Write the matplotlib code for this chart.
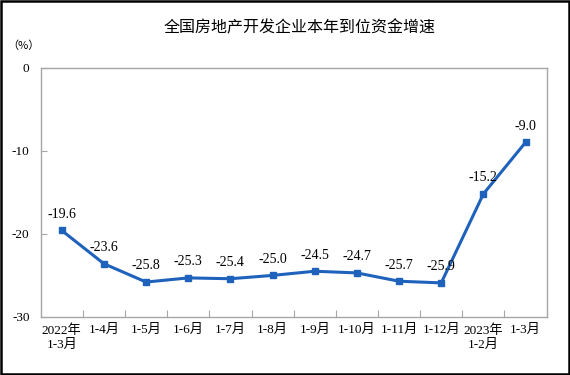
import matplotlib.pyplot as plt
from matplotlib.patches import Rectangle

# data
months = ["2022年\n1-3月", "1-4月", "1-5月", "1-6月", "1-7月", "1-8月",
          "1-9月", "1-10月", "1-11月", "1-12月", "2023年\n1-2月", "1-3月"]
growth = [-19.6, -23.6, -25.8, -25.3, -25.4, -25.0,
          -24.5, -24.7, -25.7, -25.9, -15.2, -9.0]
yticks = [0, -10, -20, -30]

serif = ['Liberation Serif', 'Noto Sans CJK SC']
line_color = '#1F62BC'
spine_color = '#A6A6A6'

fig = plt.figure(figsize=(5.7, 3.75), dpi=100)
ax = fig.add_axes([0.0714, 0.1547, 0.8876, 0.6653])

x = list(range(len(months)))
ax.plot(x, growth, color=line_color, lw=2.2, marker='s', ms=4.5,
        markerfacecolor=line_color, markeredgecolor=line_color)

for xi, v in zip(x, growth):
    ax.annotate(f"{v:.1f}", (xi, v), xytext=(0, 7), textcoords='offset points',
                ha='center', va='bottom', fontsize=10, family=serif)

ax.set_xlim(-0.5, len(months) - 0.5)
ax.set_ylim(-30, 0)
ax.set_yticks(yticks)
ax.set_yticklabels([str(t) for t in yticks], family=serif, fontsize=9.5)

ax.set_xticks([i + 0.5 for i in range(len(months) - 1)])
ax.set_xticklabels([])
ax.set_xticks(x, minor=True)
ax.set_xticklabels(months, minor=True, family=serif, fontsize=9.5, linespacing=1.3,
                   va='top')
ax.tick_params(axis='x', which='minor', length=0, pad=5)
ax.tick_params(axis='x', which='major', direction='in', length=5, color=spine_color)
ax.tick_params(axis='y', direction='in', length=4, color=spine_color, pad=8)

for s in ax.spines.values():
    s.set_color(spine_color)
    s.set_linewidth(1.0)

fig.text(0.526, 0.925, "全国房地产开发企业本年到位资金增速", ha='center', va='center',
         fontsize=11.5, family=['Noto Sans CJK SC'])
fig.text(0.042, 0.877, "（%）", ha='center', va='center', fontsize=8,
         family=['Noto Sans CJK SC'])

fig.patches.append(Rectangle((0.002, 0.003), 0.996, 0.994, transform=fig.transFigure,
                             fill=False, edgecolor='black', lw=1.8))

fig.savefig("out.png", dpi=100)
